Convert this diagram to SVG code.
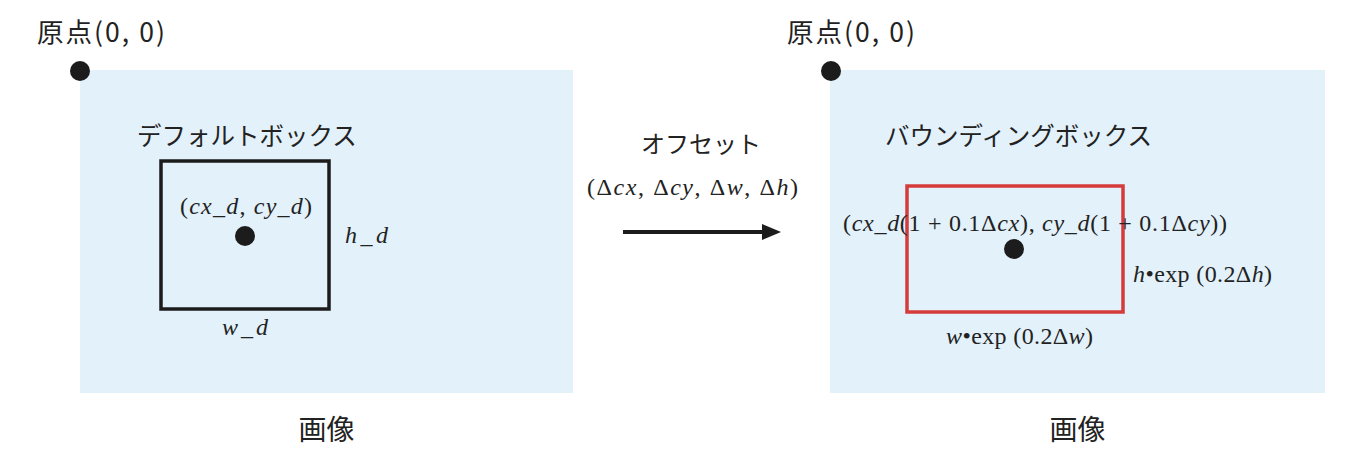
<svg xmlns="http://www.w3.org/2000/svg" width="1356" height="455" viewBox="0 0 1356 455">
  <style>
    .jp { font-family: "Noto Sans CJK JP", "Noto Sans", sans-serif; fill: #222; }
    .math { font-family: "Liberation Serif", "DejaVu Serif", serif; fill: #222; font-size: 24px; }
    .it { font-style: italic; }
    .img { fill: #e2f1fa; }
    .dot { fill: #1c1c1c; }
  </style>

  <g id="left-image">
    <rect class="img" x="80" y="70" width="493" height="323"/>
    <circle class="dot" cx="80" cy="71" r="10"/>
    <text class="jp" x="37" y="42" font-size="26.5" textLength="128" lengthAdjust="spacing">原点(0, 0)</text>
    <text class="jp" x="137" y="145" font-size="24.5">デフォルトボックス</text>
    <text class="jp" x="326.5" y="440" font-size="28" text-anchor="middle">画像</text>
  </g>

  <g id="default-box">
    <rect x="161" y="161" width="168" height="148" fill="none" stroke="#1c1c1c" stroke-width="3.5"/>
    <circle class="dot" cx="245" cy="236" r="10"/>
    <text class="math" x="180" y="214" textLength="132" lengthAdjust="spacing">(<tspan class="it">cx</tspan>_<tspan class="it">d</tspan>, <tspan class="it">cy</tspan>_<tspan class="it">d</tspan>)</text>
    <text class="math" x="345" y="243" textLength="43" lengthAdjust="spacing"><tspan class="it">h</tspan>_<tspan class="it">d</tspan></text>
    <text class="math" x="222" y="335" textLength="46" lengthAdjust="spacing"><tspan class="it">w</tspan>_<tspan class="it">d</tspan></text>
  </g>

  <g id="offset">
    <text class="jp" x="701" y="153" font-size="24" text-anchor="middle">オフセット</text>
    <text class="math" x="587" y="195" textLength="211" lengthAdjust="spacing">(Δ<tspan class="it">cx</tspan>, Δ<tspan class="it">cy</tspan>, Δ<tspan class="it">w</tspan>, Δ<tspan class="it">h</tspan>)</text>
  </g>

  <g id="connectors">
    <line x1="623" y1="232" x2="764" y2="232" stroke="#1c1c1c" stroke-width="4"/>
    <polygon points="762,224 781,232 762,240" fill="#1c1c1c"/>
  </g>

  <g id="right-image">
    <rect class="img" x="830" y="70" width="495" height="323"/>
    <circle class="dot" cx="831" cy="71" r="10"/>
    <text class="jp" x="787" y="42" font-size="26.5" textLength="128" lengthAdjust="spacing">原点(0, 0)</text>
    <text class="jp" x="885" y="145" font-size="24.5">バウンディングボックス</text>
    <text class="jp" x="1077.5" y="440" font-size="28" text-anchor="middle">画像</text>
  </g>

  <g id="bounding-box">
    <rect x="907" y="186" width="216" height="126" fill="none" stroke="#d63b3b" stroke-width="3.5"/>
    <circle class="dot" cx="1014" cy="249" r="10"/>
    <text class="math" x="843" y="231" textLength="384" lengthAdjust="spacing">(<tspan class="it">cx</tspan>_<tspan class="it">d</tspan>(1 + 0.1Δ<tspan class="it">cx</tspan>),  <tspan class="it">cy</tspan>_<tspan class="it">d</tspan>(1 + 0.1Δ<tspan class="it">cy</tspan>))</text>
    <text class="math" x="1133" y="282" textLength="139" lengthAdjust="spacing"><tspan class="it">h</tspan>•exp (0.2Δ<tspan class="it">h</tspan>)</text>
    <text class="math" x="946" y="344" textLength="147" lengthAdjust="spacing"><tspan class="it">w</tspan>•exp (0.2Δ<tspan class="it">w</tspan>)</text>
  </g>
</svg>
